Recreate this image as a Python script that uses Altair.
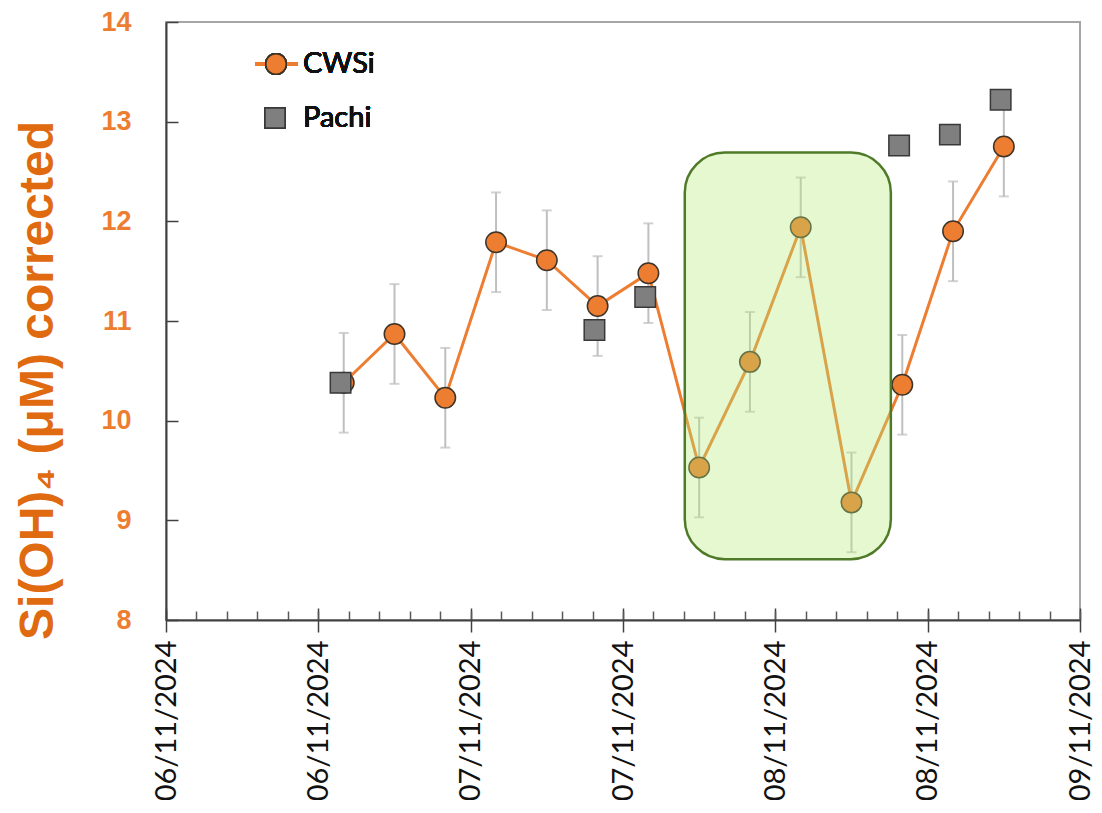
import altair as alt
import pandas as pd

# ---------------- data ----------------
cwsi_time = ["2024-11-06T14:00:00Z", "2024-11-06T18:00:00Z", "2024-11-06T22:00:00Z",
             "2024-11-07T02:00:00Z", "2024-11-07T06:00:00Z", "2024-11-07T10:00:00Z",
             "2024-11-07T14:00:00Z", "2024-11-07T18:00:00Z", "2024-11-07T22:00:00Z",
             "2024-11-08T02:00:00Z", "2024-11-08T06:00:00Z", "2024-11-08T10:00:00Z",
             "2024-11-08T14:00:00Z", "2024-11-08T18:00:00Z"]
cwsi_value = [10.38, 10.87, 10.23, 11.79, 11.61, 11.15, 11.48,
              9.53, 10.59, 11.94, 9.18, 10.36, 11.90, 12.75]
cwsi_err = [0.5, 0.5, 0.5, 0.5, 0.5, 0.5, 0.5,
            0.5, 0.5, 0.5, 0.5, 0.5, 0.5, 0.5]

pachi_time = ["2024-11-06T13:45:00Z", "2024-11-07T09:45:00Z", "2024-11-07T13:45:00Z",
              "2024-11-08T09:45:00Z", "2024-11-08T13:45:00Z", "2024-11-08T17:45:00Z"]
pachi_value = [10.38, 10.91, 11.24, 12.76, 12.87, 13.22]

# highlighted period (annotation box)
box_time = ["2024-11-07T16:52:00Z", "2024-11-08T09:06:00Z"]
box_value = [8.61, 12.69]

legend_labels = ["CWSi", "Pachi"]
y_ticks = [8, 9, 10, 11, 12, 13, 14]

# ---------------- tables ----------------
cw = pd.DataFrame({"t": cwsi_time, "v": cwsi_value, "e": cwsi_err})
cw["lo"] = cw["v"] - cw["e"]
cw["hi"] = cw["v"] + cw["e"]
pa = pd.DataFrame({"t": pachi_time, "v": pachi_value})
bx = pd.DataFrame({"t0": [box_time[0]], "t1": [box_time[1]],
                   "v0": [box_value[0]], "v1": [box_value[1]]})

def ms(s):
    return int(pd.Timestamp(s).value // 10**6)

t_start = ms("2024-11-06T00:00:00Z")
t_end = ms("2024-11-09T00:00:00Z")
major_vals = [ms(x) for x in pd.date_range("2024-11-06", "2024-11-09", freq="12h", tz="UTC")]
minor_vals = [ms(x) for x in pd.date_range("2024-11-06", "2024-11-09", freq="144min", tz="UTC")]

W, H = 914, 598
ORANGE = "#ED7D31"
xscale = alt.Scale(type="utc", domain=[t_start, t_end], nice=False)
yscale = alt.Scale(domain=[8, 14], nice=False, zero=False)

x_major_axis = alt.Axis(orient="bottom", values=major_vals, format="%d/%m/%Y",
                        offset=-12, tickSize=24, tickColor="#404040", tickWidth=1.5,
                        domain=False, grid=False, labelAngle=270, labelAlign="right",
                        labelBaseline="middle", labelPadding=8, labelFont="Lato",
                        labelFontSize=29, labelFontWeight="normal", labelColor="#111111",
                        labelFlush=False, labelOverlap=False, labelBound=False, title=None)
x_minor_axis = alt.Axis(orient="bottom", values=minor_vals, offset=-9, tickSize=9,
                        tickColor="#595959", tickWidth=1.5, domain=False, labels=False,
                        grid=False, title=None)
x_domain_axis = alt.Axis(orient="bottom", ticks=False, labels=False, grid=False,
                         domain=True, domainColor="#404040", domainWidth=2, title=None)

y_main_axis = alt.Axis(orient="left", values=y_ticks, ticks=False, domain=True,
                       domainColor="#404040", domainWidth=2, grid=False,
                       labelPadding=35, labelFont="Liberation Sans", labelFontWeight="bold",
                       labelFontSize=27, labelColor=ORANGE,
                       title="Si(OH)₄ (μM) corrected", titleFont="Liberation Sans",
                       titleFontWeight="bold", titleFontSize=48, titleColor="#E06A10",
                       titleAngle=270, titleAlign="center", titleBaseline="alphabetic",
                       titleX=-114, titleY=358)
y_tick_axis = alt.Axis(orient="left", values=y_ticks, offset=-12, tickSize=12,
                       tickColor="#404040", tickWidth=1.5, domain=False, labels=False,
                       grid=False, title=None)

def X(field, axis=None):
    return alt.X(field, type="temporal", scale=xscale, axis=axis)

def Y(field, axis=None):
    return alt.Y(field, type="quantitative", scale=yscale, axis=axis)

err_rule = alt.Chart(cw).mark_rule(color="#BFBFBF", strokeWidth=2).encode(
    x=X("t", x_major_axis), y=Y("lo", y_main_axis), y2="hi")
err_cap_lo = alt.Chart(cw).mark_tick(color="#BFBFBF", orient="horizontal", size=10,
                                     thickness=2).encode(
    x=X("t", x_minor_axis), y=Y("lo", y_tick_axis))
err_cap_hi = alt.Chart(cw).mark_tick(color="#BFBFBF", orient="horizontal", size=10,
                                     thickness=2).encode(
    x=X("t"), y=Y("hi"))
line = alt.Chart(cw).mark_line(color=ORANGE, strokeWidth=3).encode(
    x=X("t", x_domain_axis), y=Y("v"))
pts = alt.Chart(cw).mark_point(shape="circle", filled=True, size=420, fill=ORANGE,
                               fillOpacity=1, stroke="#3d3328", strokeWidth=1.5,
                               opacity=1).encode(x=X("t"), y=Y("v"))
sq = alt.Chart(pa).mark_point(shape="square", filled=True, size=420, fill="#7F7F7F",
                              fillOpacity=1, stroke="#383838", strokeWidth=1.5,
                              opacity=1).encode(x=X("t"), y=Y("v"))
box = alt.Chart(bx).mark_rect(fill="#B5EB79", fillOpacity=0.35, stroke="#4F7A28",
                              strokeWidth=2.5, strokeOpacity=1, cornerRadius=40).encode(
    x=X("t0"), x2="t1", y=Y("v0"), y2="v1")

# legend (drawn by hand, like the original)
leg_line = alt.Chart(cw).mark_rule(color=ORANGE, strokeWidth=3).encode(
    x=alt.value(89), x2=alt.value(132), y=alt.value(42))
leg_circ = alt.Chart(cw).mark_point(shape="circle", filled=True, size=420, fill=ORANGE,
                                    fillOpacity=1, stroke="#3d3328", strokeWidth=1.5,
                                    opacity=1).encode(x=alt.value(110), y=alt.value(42))
leg_sq = alt.Chart(pa).mark_point(shape="square", filled=True, size=400, fill="#7F7F7F",
                                  fillOpacity=1, stroke="#383838", strokeWidth=1.5,
                                  opacity=1).encode(x=alt.value(109), y=alt.value(96))
leg_t1 = alt.Chart(cw).mark_text(text=legend_labels[0], font="Lato", fontSize=29,
                                 fontWeight="normal", color="#111111", align="left",
                                 baseline="middle").encode(x=alt.value(137), y=alt.value(42))
leg_t2 = alt.Chart(cw).mark_text(text=legend_labels[1], font="Lato", fontSize=29,
                                 fontWeight="normal", color="#111111", align="left",
                                 baseline="middle").encode(x=alt.value(137), y=alt.value(96))

chart = alt.layer(err_rule, err_cap_lo, err_cap_hi, line, pts, sq, box,
                  leg_line, leg_circ, leg_sq, leg_t1, leg_t2).resolve_axis(
    x="independent", y="independent"
).properties(
    width=W, height=H,
    autosize=alt.AutoSizeParams(type="none"),
    padding={"left": 158, "top": 14, "right": 14, "bottom": 180},
    background="white",
).configure_view(stroke="#A6A6A6", strokeWidth=2)

chart.save("out.html", embed_options={"renderer": "svg", "actions": False})
